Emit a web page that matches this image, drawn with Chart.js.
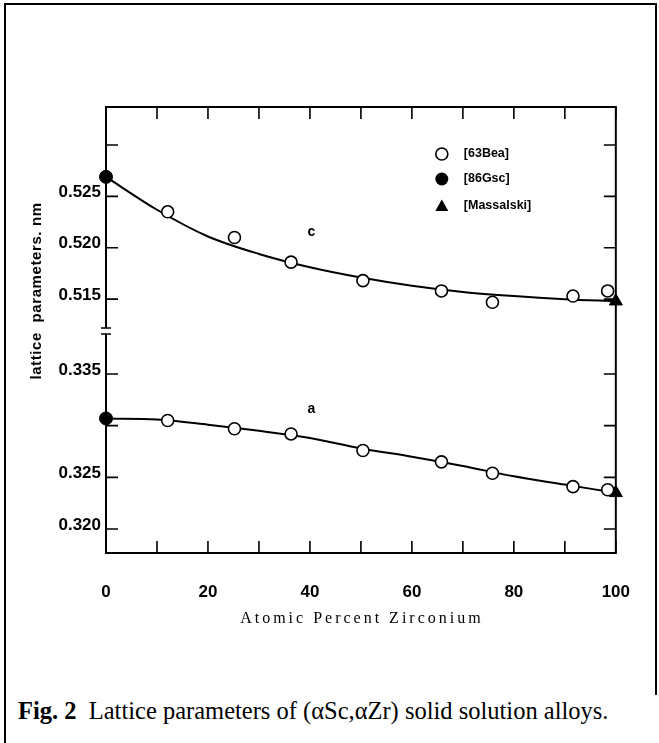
<!DOCTYPE html>
<html>
<head>
<meta charset="utf-8">
<script src="https://cdn.jsdelivr.net/npm/chart.js@4.4.0/dist/chart.umd.min.js"></script>
<style>
  body { margin: 0; background: #fff; width: 659px; height: 743px; overflow: hidden; position: relative; }
  #box { position: absolute; left: 4px; top: 3px; width: 649px; height: 690px; border-top: 2px solid #000; border-left: 2px solid #000; border-right: 2px solid #000; }
  #edge { position: absolute; left: 4px; top: 690px; height: 60px; border-left: 2px solid #000; }
  #wrap { position: absolute; left: 0; top: 0; width: 659px; height: 660px; }
  #caption { position: absolute; left: 18px; top: 699px; font-family: "Liberation Serif", "Times New Roman", serif; font-size: 24.5px; line-height: 1; color: #000; white-space: nowrap; }
</style>
</head>
<body>
<div id="box"></div>
<div id="edge"></div>
<div id="wrap"><canvas id="graficoRed" width="659" height="660"></canvas></div>
<div id="caption"><b>Fig. 2</b>&nbsp; Lattice parameters of (αSc,αZr) solid solution alloys.</div>
<script>
// puntos de [63Bea]
const zrBea = [12.1, 25.2, 36.3, 50.4, 65.8, 75.8, 91.6, 98.4];
const cBea = [0.5235, 0.5210, 0.5186, 0.5168, 0.5158, 0.5147, 0.5153, 0.5158];
const aBea = [0.3305, 0.3297, 0.3292, 0.3276, 0.3265, 0.3254, 0.3241, 0.3238];

// [86Gsc] en 0 % Zr y [Massalski] en 100 % Zr
const zrGsc = [0];
const cGsc = [0.5269];
const aGsc = [0.3307];
const zrMas = [100];
const cMas = [0.5148];
const aMas = [0.3235];

// curvas dibujadas a mano en la figura
const zrCurva = [0, 10, 20, 30, 40, 50, 60, 70, 80, 90, 100];
const cCurva = [0.5269, 0.5237, 0.5211, 0.5194, 0.5181, 0.5171, 0.5163, 0.5157, 0.5153, 0.5150, 0.5148];
const aCurva = [0.3307, 0.3306, 0.3301, 0.3295, 0.3288, 0.3278, 0.3270, 0.3261, 0.3251, 0.3243, 0.3235];

// marcas de los ejes
const cTicks = [0.515, 0.520, 0.525, 0.530];
const cEtiquetas = ['0.515', '0.520', '0.525'];
const aTicks = [0.320, 0.325, 0.330, 0.335];
const aEtiquetas = ['0.320', '0.325', '0.335'];
const leyenda = ['[63Bea]', '[86Gsc]', '[Massalski]'];

const pares = (xs, ys) => xs.map((x, i) => ({ x: x, y: ys[i] }));

const fuenteEje = { family: '"Liberation Sans", Arial, sans-serif', size: 17, weight: 'bold' };

const abierto = { pointStyle: 'circle', pointRadius: 6, pointBackgroundColor: '#fff', pointBorderColor: '#000', pointBorderWidth: 1.6, showLine: false, clip: false };
const lleno = { pointStyle: 'circle', pointRadius: 6.5, pointBackgroundColor: '#000', pointBorderColor: '#000', pointBorderWidth: 1, showLine: false, clip: false };
const triangulo = { pointStyle: 'triangle', pointRadius: 7.5, pointBackgroundColor: '#000', pointBorderColor: '#000', pointBorderWidth: 1, showLine: false, clip: false };
const curva = { showLine: true, pointRadius: 0, borderColor: '#000', borderWidth: 2, tension: 0.4, cubicInterpolationMode: 'monotone', clip: false };

let datos = {
    datasets: [
        Object.assign({ label: '63Bea c', data: pares(zrBea, cBea), yAxisID: 'yc' }, abierto),
        Object.assign({ label: '63Bea a', data: pares(zrBea, aBea), yAxisID: 'ya' }, abierto),
        Object.assign({ label: '86Gsc c', data: pares(zrGsc, cGsc), yAxisID: 'yc' }, lleno),
        Object.assign({ label: '86Gsc a', data: pares(zrGsc, aGsc), yAxisID: 'ya' }, lleno),
        Object.assign({ label: 'Massalski c', data: pares(zrMas, cMas), yAxisID: 'yc' }, triangulo),
        Object.assign({ label: 'Massalski a', data: pares(zrMas, aMas), yAxisID: 'ya' }, triangulo),
        Object.assign({ label: 'curva c', data: pares(zrCurva, cCurva), yAxisID: 'yc' }, curva),
        Object.assign({ label: 'curva a', data: pares(zrCurva, aCurva), yAxisID: 'ya' }, curva)
    ]
};

const ejeY = (ticks, etiquetas, min, max, peso) => ({
    type: 'linear', position: 'left', stack: 'red', stackWeight: peso, min: min, max: max,
    afterBuildTicks: s => { s.ticks = ticks.map(v => ({ value: v })); },
    afterFit: s => { s.width = 106; },
    grid: { display: false, drawTicks: false },
    border: { display: false },
    ticks: {
        padding: 5, labelOffset: -4, color: '#000', font: fuenteEje,
        callback: v => etiquetas.includes(v.toFixed(3)) ? v.toFixed(3) : ''
    }
});

// marco, marcas hacia dentro, leyenda y rotulos
const marco = {
    id: 'marco',
    beforeDatasetsDraw(chart) {
        const { ctx, chartArea: a, scales } = chart;
        ctx.save();
        ctx.strokeStyle = '#000';
        ctx.lineWidth = 2;
        ctx.strokeRect(a.left, a.top, a.right - a.left, a.bottom - a.top);
        ctx.lineWidth = 1.6;
        ctx.beginPath();
        scales.x.ticks.forEach(t => {
            const px = scales.x.getPixelForValue(t.value);
            ctx.moveTo(px, a.bottom); ctx.lineTo(px, a.bottom - 12);
            ctx.moveTo(px, a.top); ctx.lineTo(px, a.top + 12);
        });
        [scales.yc, scales.ya].forEach(s => s.ticks.forEach(t => {
            const py = s.getPixelForValue(t.value);
            ctx.moveTo(a.left, py); ctx.lineTo(a.left + 12, py);
            ctx.moveTo(a.right, py); ctx.lineTo(a.right - 12, py);
        }));
        ctx.stroke();
        // corte del eje izquierdo
        const yb = scales.yc.bottom;
        ctx.fillStyle = '#fff';
        ctx.fillRect(a.left - 3, yb - 3, 6, 6);
        ctx.beginPath();
        ctx.moveTo(a.left - 5, yb - 3); ctx.lineTo(a.left + 5, yb - 3);
        ctx.moveTo(a.left - 5, yb + 3); ctx.lineTo(a.left + 5, yb + 3);
        ctx.stroke();
        ctx.restore();
    },
    afterDraw(chart) {
        const { ctx, chartArea: a, scales } = chart;
        ctx.save();
        ctx.fillStyle = '#000';
        ctx.strokeStyle = '#000';
        // leyenda
        const lx = a.right - 174, ly = [154, 179, 206];
        ctx.lineWidth = 1.6;
        ctx.beginPath(); ctx.arc(lx, ly[0], 6, 0, Math.PI * 2); ctx.stroke();
        ctx.beginPath(); ctx.arc(lx, ly[1], 6.5, 0, Math.PI * 2); ctx.fill();
        ctx.beginPath(); ctx.moveTo(lx, ly[2] - 6.5); ctx.lineTo(lx + 6.5, ly[2] + 5); ctx.lineTo(lx - 6.5, ly[2] + 5); ctx.closePath(); ctx.fill();
        ctx.font = 'bold 12.5px "Liberation Sans", Arial, sans-serif';
        ctx.textBaseline = 'middle';
        ctx.textAlign = 'left';
        leyenda.forEach((t, i) => ctx.fillText(t, lx + 22, ly[i]));
        // rotulos de las curvas
        ctx.font = 'bold 14px "Liberation Sans", Arial, sans-serif';
        ctx.textAlign = 'center';
        ctx.fillText('c', scales.x.getPixelForValue(40.3), scales.yc.getPixelForValue(0.5215));
        ctx.fillText('a', scales.x.getPixelForValue(40.3), scales.ya.getPixelForValue(0.3316));
        // titulo del eje y
        ctx.save();
        ctx.translate(37, 291);
        ctx.rotate(-Math.PI / 2);
        ctx.font = 'bold 15px "Liberation Sans", Arial, sans-serif';
        ctx.letterSpacing = '0.6px';
        ctx.fillText('lattice  parameters. nm', 0, 0);
        ctx.restore();
        // titulo del eje x
        ctx.font = '16px "Liberation Serif", "Times New Roman", serif';
        ctx.letterSpacing = '3px';
        ctx.fillText('Atomic Percent Zirconium', (a.left + a.right) / 2 + 1, 619);
        ctx.restore();
    }
};

let opciones = {
    responsive: false,
    animation: false,
    devicePixelRatio: 1,
    layout: { padding: { top: 107, right: 41, bottom: 0, left: 0 } },
    plugins: { legend: { display: false }, tooltip: { enabled: false } },
    scales: {
        x: {
            type: 'linear', min: 0, max: 100,
            afterFit: s => { s.height = 107; },
            grid: { display: false, drawTicks: false },
            border: { display: false },
            ticks: {
                stepSize: 10, padding: 29, maxRotation: 0, autoSkip: false, color: '#000', font: fuenteEje,
                callback: v => v % 20 === 0 ? String(v) : ''
            }
        },
        ya: ejeY(aTicks, aEtiquetas, 0.31768, 0.33916, 222),
        yc: ejeY(cTicks, cEtiquetas, 0.5119, 0.5337, 224)
    }
};

let ctx = document.getElementById('graficoRed').getContext('2d');

let miGrafico = new Chart(ctx, {
    type: 'scatter',
    data: datos,
    options: opciones,
    plugins: [marco]
});
</script>
</body>
</html>
